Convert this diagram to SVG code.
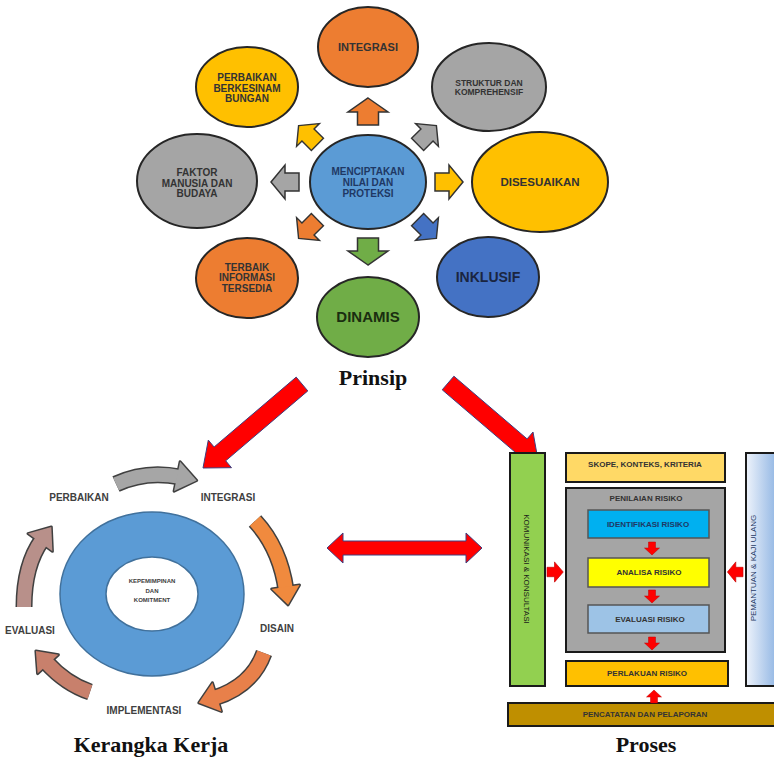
<svg xmlns="http://www.w3.org/2000/svg" width="774" height="758" viewBox="0 0 774 758">
<style>
.t{font-family:"Liberation Sans",Arial,sans-serif;font-weight:bold;text-anchor:middle;fill:#333}
.h{font-family:"Liberation Serif","Times New Roman",serif;font-weight:bold;text-anchor:middle;fill:#111;font-size:22px}
.el{stroke:#262626;stroke-width:2}
.sa{stroke:#333;stroke-width:1.5}
.red{fill:#FF0000;stroke:#3F3F7F;stroke-width:1}
.bx{stroke:#1a1a1a;stroke-width:2}
.pt{font-family:"Liberation Sans",Arial,sans-serif;font-weight:bold;text-anchor:middle;fill:#333;font-size:8px}
.fl{font-family:"Liberation Sans",Arial,sans-serif;font-weight:bold;text-anchor:middle;fill:#404040;font-size:10px}
.ol{fill:none;stroke:#404040;stroke-width:17}
</style>
<defs>
<path id="ar" d="M0,-14 L17,0 L9,0 L9,14 L-9,14 L-9,0 L-17,0 Z"/>
<path id="arw" d="M0,-14 L20,0 L10.5,0 L10.5,13 L-10.5,13 L-10.5,0 L-20,0 Z"/>
<path id="rd" d="M-3.5,0 L3.5,0 L3.5,6 L7.5,6 L0,13 L-7.5,6 L-3.5,6 Z"/>
<linearGradient id="gb" x1="0" y1="0" x2="1" y2="0"><stop offset="0" stop-color="#EEF3FB"/><stop offset="1" stop-color="#8EB4E3"/></linearGradient>
</defs>

<!-- Prinsip -->
<g id="integrasi"><ellipse class="el" cx="368" cy="47" rx="50" ry="40" fill="#ED7D31"/><text class="t" x="368" y="51" font-size="11">INTEGRASI</text></g>
<g id="perbaikan-berkesinambungan"><ellipse class="el" cx="247" cy="87" rx="51" ry="40" fill="#FFC000"/><text class="t" font-size="10"><tspan x="247" y="80.5">PERBAIKAN</tspan><tspan x="247" y="91.5">BERKESINAM</tspan><tspan x="247" y="101.5">BUNGAN</tspan></text></g>
<g id="struktur"><ellipse class="el" cx="489" cy="87" rx="57" ry="44" fill="#A5A5A5"/><text class="t" font-size="8.5"><tspan x="489" y="86">STRUKTUR DAN</tspan><tspan x="489" y="95">KOMPREHENSIF</tspan></text></g>
<g id="faktor"><ellipse class="el" cx="197" cy="181" rx="60" ry="47" fill="#A5A5A5"/><text class="t" font-size="10"><tspan x="197" y="175.5">FAKTOR</tspan><tspan x="197" y="186.5">MANUSIA DAN</tspan><tspan x="197" y="196.5">BUDAYA</tspan></text></g>
<g id="menciptakan"><ellipse class="el" cx="368" cy="182" rx="58" ry="47" fill="#5B9BD5"/><text class="t" font-size="10" style="fill:#1F3864"><tspan x="368" y="174.5">MENCIPTAKAN</tspan><tspan x="368" y="185.5">NILAI DAN</tspan><tspan x="368" y="196.5">PROTEKSI</tspan></text></g>
<g id="disesuaikan"><ellipse class="el" cx="540" cy="182" rx="68" ry="50" fill="#FFC000"/><text class="t" x="540" y="186" font-size="11.5">DISESUAIKAN</text></g>
<g id="terbaik"><ellipse class="el" cx="247" cy="278" rx="51" ry="40" fill="#ED7D31"/><text class="t" font-size="10"><tspan x="247" y="270.5">TERBAIK</tspan><tspan x="247" y="280.5">INFORMASI</tspan><tspan x="247" y="291.5">TERSEDIA</tspan></text></g>
<g id="dinamis"><ellipse class="el" cx="368" cy="317" rx="51" ry="40" fill="#70AD47"/><text class="t" x="368" y="322" font-size="15" style="fill:#1a2e10">DINAMIS</text></g>
<g id="inklusif"><ellipse class="el" cx="488" cy="277" rx="51" ry="40" fill="#4472C4"/><text class="t" x="488" y="282" font-size="14" style="fill:#1a2540">INKLUSIF</text></g>

<g id="prinsip-arrows">
<use href="#arw" class="sa" fill="#ED7D31" transform="translate(368,112)"/>
<use href="#ar" class="sa" fill="#FFC000" transform="translate(308,135) rotate(-45) scale(0.95)"/>
<use href="#ar" class="sa" fill="#A5A5A5" transform="translate(427,135) rotate(45) scale(0.95)"/>
<use href="#ar" class="sa" fill="#A5A5A5" transform="translate(285,182) rotate(-90)"/>
<use href="#ar" class="sa" fill="#FFC000" transform="translate(449,182) rotate(90)"/>
<use href="#ar" class="sa" fill="#ED7D31" transform="translate(308,229) rotate(-135) scale(0.95)"/>
<use href="#ar" class="sa" fill="#4472C4" transform="translate(427,229) rotate(135) scale(0.95)"/>
<use href="#arw" class="sa" fill="#70AD47" transform="translate(368,251) rotate(180)"/>
</g>
<text class="h" x="373" y="385">Prinsip</text>

<!-- connectors between parts -->
<g id="connectors">
<polygon class="red" points="296.2,377.1 214.1,447.0 208.3,440.1 203,468 231.5,467.7 225.7,460.8 307.8,390.9"/>
<polygon class="red" points="453.9,376.2 527.1,438.9 533.0,432.0 538,460 509.6,459.4 515.5,452.5 442.2,389.8"/>
<polygon class="red" points="327,548 343,533 343,541 466,541 466,533 482,548 466,563 466,555 343,555 343,563"/>
</g>

<!-- Kerangka Kerja -->
<g id="kerangka-ring">
<path d="M60,594 a92,82 0 1,0 184,0 a92,82 0 1,0 -184,0 Z M106,594 a46,37 0 1,0 92,0 a46,37 0 1,0 -92,0 Z" fill="#5B9BD5" fill-rule="evenodd" stroke="#41719C" stroke-width="1.5"/>
<text class="t" font-size="6" style="fill:#404040"><tspan x="152" y="583">KEPEMIMPINAN</tspan><tspan x="152" y="592.5">DAN</tspan><tspan x="152" y="602">KOMITMENT</tspan></text>
</g>
<g id="kerangka-labels">
<text class="fl" x="79" y="501">PERBAIKAN</text>
<text class="fl" x="228" y="501">INTEGRASI</text>
<text class="fl" x="277" y="632">DISAIN</text>
<text class="fl" x="30" y="634">EVALUASI</text>
<text class="fl" x="144" y="714">IMPLEMENTASI</text>
</g>
<g id="kerangka-arrows">
<!-- outlines -->
<path class="ol" d="M116,484 Q146,470 180,477"/>
<polygon points="174.1,491.1 180.1,461.7 196.7,480.4" fill="#404040" stroke="#404040" stroke-width="3" stroke-linejoin="round"/>
<path class="ol" d="M255,521 Q280,548 286,590"/>
<polygon points="299.5,585.0 271.7,589.0 288.1,604.8" fill="#404040" stroke="#404040" stroke-width="3" stroke-linejoin="round"/>
<path class="ol" d="M264,653 Q252,686 214,698"/>
<polygon points="221.4,711.4 212.4,682.8 198.8,702.8" fill="#404040" stroke="#404040" stroke-width="3" stroke-linejoin="round"/>
<path class="ol" d="M90,692 Q66,684 46,662"/>
<polygon points="58.4,654.8 37.6,673.6 35.9,650.9" fill="#404040" stroke="#404040" stroke-width="3" stroke-linejoin="round"/>
<path class="ol" d="M24,607 Q24,565 42,540"/>
<polygon points="52.4,551.2 28.0,533.6 51.3,527.0" fill="#404040" stroke="#404040" stroke-width="3" stroke-linejoin="round"/>
<!-- fills -->
<path d="M116,484 Q146,470 180,477" fill="none" stroke="#A6A6A6" stroke-width="14"/>
<polygon points="174.1,491.1 180.1,461.7 196.7,480.4" fill="#A6A6A6"/>
<path d="M255,521 Q280,548 286,590" fill="none" stroke="#F08A3E" stroke-width="14"/>
<polygon points="299.5,585.0 271.7,589.0 288.1,604.8" fill="#F08A3E"/>
<path d="M264,653 Q252,686 214,698" fill="none" stroke="#E8804A" stroke-width="14"/>
<polygon points="221.4,711.4 212.4,682.8 198.8,702.8" fill="#E8804A"/>
<path d="M90,692 Q66,684 46,662" fill="none" stroke="#C8806C" stroke-width="14"/>
<polygon points="58.4,654.8 37.6,673.6 35.9,650.9" fill="#C8806C"/>
<path d="M24,607 Q24,565 42,540" fill="none" stroke="#B8908A" stroke-width="14"/>
<polygon points="52.4,551.2 28.0,533.6 51.3,527.0" fill="#B8908A"/>
</g>
<text class="h" x="151" y="752">Kerangka Kerja</text>

<!-- Proses -->
<g id="komunikasi"><rect class="bx" x="510" y="453" width="35" height="233" fill="#92D050"/><text class="pt" transform="translate(527,569) rotate(90)" y="3" style="font-weight:normal;fill:#1a1a1a">KOMUNIKASI &amp; KONSULTASI</text></g>
<g id="skope"><rect class="bx" x="566" y="453" width="159" height="29" fill="#FFD966"/><text class="pt" x="645" y="467">SKOPE, KONTEKS, KRITERIA</text></g>
<g id="penilaian"><rect class="bx" x="566" y="488" width="159" height="164" fill="#A5A5A5"/><text class="pt" x="646" y="501" font-size="7.5">PENILAIAN RISIKO</text></g>
<g id="identifikasi"><rect x="588" y="510" width="121" height="28" fill="#00B0F0" stroke="#555" stroke-width="1.5"/><text class="pt" x="648" y="527" style="fill:#1F3864">IDENTIFIKASI RISIKO</text></g>
<g id="analisa"><rect x="588" y="558" width="121" height="29" fill="#FFFF00" stroke="#555" stroke-width="1.5"/><text class="pt" x="649" y="575">ANALISA RISIKO</text></g>
<g id="evaluasi"><rect x="588" y="605" width="121" height="28" fill="#9DC3E6" stroke="#555" stroke-width="1.5"/><text class="pt" x="650" y="622">EVALUASI RISIKO</text></g>
<g id="perlakuan"><rect class="bx" x="566" y="661" width="162" height="25" fill="#FFC000"/><text class="pt" x="647" y="676">PERLAKUAN RISIKO</text></g>
<g id="pencatatan"><rect class="bx" x="508" y="703" width="270" height="23" fill="#BF8F00"/><text class="pt" x="645" y="717">PENCATATAN DAN PELAPORAN</text></g>
<g id="pemantauan"><rect class="bx" x="746" y="453" width="32" height="233" fill="url(#gb)"/><text class="pt" transform="translate(753,568) rotate(-90)" y="3" style="font-weight:normal;fill:#1F3864">PEMANTUAN &amp; KAJI ULANG</text></g>
<g id="proses-arrows" fill="#FF0000" stroke="#C00000" stroke-width="0.5">
<use href="#rd" transform="translate(652,542)"/>
<use href="#rd" transform="translate(652,590)"/>
<use href="#rd" transform="translate(652,637)"/>
<use href="#rd" transform="translate(654,703) rotate(180)"/>
<use href="#rd" transform="translate(547,572) rotate(-90) scale(1.35,1.25)"/>
<use href="#rd" transform="translate(743,572) rotate(90) scale(1.35,1.2)"/>
</g>
<text class="h" x="646" y="752">Proses</text>
</svg>
